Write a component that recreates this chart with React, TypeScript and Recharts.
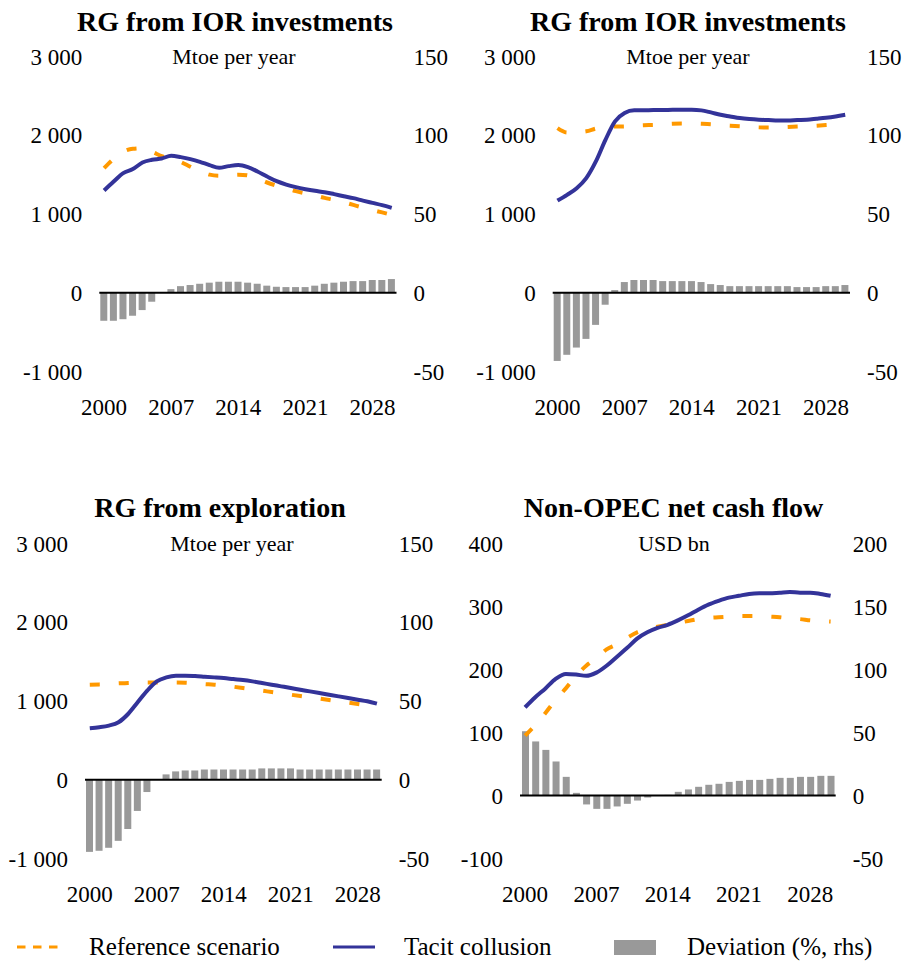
import React from 'react';
import { ComposedChart, Bar, Line, XAxis, YAxis, ReferenceLine } from 'recharts';

const FONT = '"Liberation Serif", "Times New Roman", serif';

const years = ['2000','2001','2002','2003','2004','2005','2006','2007','2008','2009','2010','2011','2012','2013','2014','2015','2016','2017','2018','2019','2020','2021','2022','2023','2024','2025','2026','2027','2028','2029','2030'];

// Panel 1: RG from IOR investments (Mtoe per year)
const ior1Reference = [1583,1700,1790,1828,1835,1790,1735,1700,1660,1600,1545,1500,1485,1490,1500,1490,1450,1400,1360,1325,1290,1262,1235,1205,1180,1150,1115,1080,1050,1020,989];
const ior1Tacit = [1298,1412,1519,1570,1654,1688,1705,1739,1722,1697,1663,1621,1587,1608,1621,1595,1540,1476,1417,1374,1341,1315,1294,1277,1252,1226,1201,1170,1141,1112,1078];
const ior1Deviation = [-17.8,-17.8,-16.8,-14.6,-11,-5.7,0,2.3,4.2,4.9,5.7,6.4,7,7,7,6.4,5.7,4.5,3.8,3.6,3.6,3.6,4.5,5.7,6.4,7,7.4,7.4,8.1,8.1,8.7];

// Panel 2: RG from IOR investments (Mtoe per year)
const ior2Reference = [2091,2036,2040,2050,2085,2105,2110,2112,2120,2128,2130,2138,2145,2148,2148,2145,2140,2130,2122,2115,2108,2100,2098,2100,2105,2110,2115,2122,2130,2138,2145];
const ior2Tacit = [1170,1243,1327,1455,1667,1942,2176,2282,2316,2316,2320,2320,2324,2324,2324,2316,2290,2260,2239,2218,2205,2197,2193,2188,2188,2193,2197,2209,2222,2239,2260];
const ior2Deviation = [-43.3,-39.4,-34.8,-29.3,-20.4,-7.6,1.7,6.8,8.1,8.1,8.1,7.4,7.4,7.4,7.4,6.8,5.5,4.9,4.2,4.2,4.2,4.2,4.2,4.2,4.2,3.6,3.6,3.6,4.2,4.2,4.9];

// Panel 3: RG from exploration (Mtoe per year)
const explReference = [1207,1211,1215,1224,1228,1232,1236,1236,1236,1236,1232,1224,1215,1207,1194,1181,1165,1148,1131,1114,1097,1080,1063,1046,1030,1013,996,979,962,945,928];
const explTacit = [654,667,688,730,835,983,1131,1249,1300,1321,1321,1316,1308,1300,1291,1278,1266,1249,1228,1207,1186,1165,1143,1122,1101,1080,1059,1038,1017,996,966];
const explDeviation = [-45.8,-45.1,-43.2,-38.8,-31.2,-19.8,-7.8,0,3.4,5.3,5.9,5.9,6.5,6.5,6.5,6.5,6.5,6.5,7.2,7.2,7.2,7.2,6.5,6.5,6.5,6.5,6.5,6.5,6.5,6.5,6.5];

// Panel 4: Non-OPEC net cash flow (USD bn)
const cashReference = [95,112,131,152,170,190,206,218,232,240,250,259,264,268,271,274,277,280,282,283,284,285,285,285,284,283,281,280,278,277,276];
const cashTacit = [140,156,170,185,193,192,190,195,206,220,234,249,259,266,271,278,286,295,303,309,314,317,320,321,321,322,323,322,322,320,317];
const cashDeviation = [51,42.9,36.2,27,14.8,2.1,-7.1,-10.6,-10.6,-8.7,-6.6,-4,-1.6,-0.3,0.5,2.9,4.8,6.9,8.5,9.3,10.8,11.6,12.4,12.4,13.2,14,14,14.8,14.8,15.6,15.6];

const mtoeTicks = [-1000, 0, 1000, 2000, 3000];
const devTicks = [-50, 0, 50, 100, 150];
const usdTicks = [-100, 0, 100, 200, 300, 400];
const cashDevTicks = [-50, 0, 50, 100, 150, 200];

const ORANGE = '#FF9900';
const BLUE = '#333399';
const GREY = '#999999';

const build = (refs: number[], tacit: number[], dev: number[]) =>
  years.map((y, i) => ({ year: y, reference: refs[i], tacit: tacit[i], deviation: dev[i] }));

const fmtThousands = (v: number) => {
  const s = Math.abs(v).toString();
  const withSpace = s.length > 3 ? s.slice(0, s.length - 3) + ' ' + s.slice(s.length - 3) : s;
  return (v < 0 ? '-' : '') + withSpace;
};

const tickStyle = { fill: '#000', fontSize: 23, fontFamily: FONT };

type PanelProps = {
  left: number; top: number; width: number; height: number;
  wl: number; wr: number;
  data: any[];
  leftTicks: number[]; rightTicks: number[];
  leftFmt?: (v: number) => string;
};

const PLOT_TOP = 56.5;
const PLOT_H = 315;

function Panel(p: PanelProps) {
  return (
    <div style={{ position: 'absolute', left: p.left, top: p.top, width: p.width, height: p.height }}>
      <ComposedChart width={p.width} height={p.height} data={p.data}
        margin={{ top: PLOT_TOP, right: 0, bottom: 0, left: 0 }}>
        <XAxis dataKey="year" interval={6} axisLine={false} tickLine={false} tickSize={0} tickMargin={27}
          height={p.height - PLOT_TOP - PLOT_H} tick={tickStyle} />
        <YAxis yAxisId="left" width={p.wl} domain={[p.leftTicks[0], p.leftTicks[p.leftTicks.length - 1]]}
          ticks={p.leftTicks} tickFormatter={p.leftFmt} axisLine={false} tickLine={false} tickSize={0}
          tickMargin={17} tick={tickStyle} interval={0} />
        <YAxis yAxisId="right" orientation="right" width={p.wr}
          domain={[p.rightTicks[0], p.rightTicks[p.rightTicks.length - 1]]} ticks={p.rightTicks}
          axisLine={false} tickLine={false} tickSize={0} tickMargin={17} tick={tickStyle} interval={0} />
        <Bar yAxisId="right" dataKey="deviation" fill={GREY} barSize={7} isAnimationActive={false} />
        <ReferenceLine yAxisId="left" y={0} stroke="#000" strokeWidth={2} />
        <Line yAxisId="left" dataKey="reference" type="monotone" stroke={ORANGE} strokeWidth={4}
          strokeDasharray="10 19" dot={false} activeDot={false} isAnimationActive={false} />
        <Line yAxisId="left" dataKey="tacit" type="monotone" stroke={BLUE} strokeWidth={4}
          dot={false} activeDot={false} isAnimationActive={false} />
      </ComposedChart>
    </div>
  );
}

export default function App() {
  const titleStyle = { fontFamily: FONT, fontSize: 28, fontWeight: 700, fill: '#000' } as const;
  const subStyle = { fontFamily: FONT, fontSize: 22, fill: '#000' } as const;
  const legStyle = { fontFamily: FONT, fontSize: 25, fill: '#000' } as const;
  return (
    <div style={{ position: 'absolute', left: 0, top: 0, width: 905, height: 964, background: '#fff' }}>
      <Panel left={0} top={0} width={460} height={421.5} wl={99.3} wr={63.5}
        data={build(ior1Reference, ior1Tacit, ior1Deviation)} leftTicks={mtoeTicks} rightTicks={devTicks}
        leftFmt={fmtThousands} />
      <Panel left={452} top={0} width={453} height={421.5} wl={100.7} wr={55}
        data={build(ior2Reference, ior2Tacit, ior2Deviation)} leftTicks={mtoeTicks} rightTicks={devTicks}
        leftFmt={fmtThousands} />
      <Panel left={0} top={487} width={450} height={421.5} wl={85} wr={68.3}
        data={build(explReference, explTacit, explDeviation)} leftTicks={mtoeTicks} rightTicks={devTicks}
        leftFmt={fmtThousands} />
      <Panel left={452} top={487} width={453} height={421.5} wl={68} wr={69.3}
        data={build(cashReference, cashTacit, cashDeviation)} leftTicks={usdTicks} rightTicks={cashDevTicks} />
      <svg width={905} height={964} style={{ position: 'absolute', left: 0, top: 0, pointerEvents: 'none' }}>
        <text x={235} y={31} textAnchor="middle" style={titleStyle}>RG from IOR investments</text>
        <text x={234} y={64} textAnchor="middle" style={subStyle}>Mtoe per year</text>
        <text x={688} y={31} textAnchor="middle" style={titleStyle}>RG from IOR investments</text>
        <text x={688} y={64} textAnchor="middle" style={subStyle}>Mtoe per year</text>
        <text x={220} y={517} textAnchor="middle" style={titleStyle}>RG from exploration</text>
        <text x={232} y={551} textAnchor="middle" style={subStyle}>Mtoe per year</text>
        <text x={673.5} y={517} textAnchor="middle" style={titleStyle}>Non-OPEC net cash flow</text>
        <text x={674} y={551} textAnchor="middle" style={subStyle}>USD bn</text>

        <line x1={17} y1={947} x2={58} y2={947} stroke={ORANGE} strokeWidth={3} strokeDasharray="8.5 7.5" />
        <text x={89} y={955} style={legStyle}>Reference scenario</text>
        <line x1={333} y1={947} x2={375} y2={947} stroke={BLUE} strokeWidth={3} />
        <text x={404} y={955} style={legStyle}>Tacit collusion</text>
        <rect x={614} y={940} width={42} height={15} fill={GREY} />
        <text x={687} y={955} style={legStyle}>Deviation (%, rhs)</text>
      </svg>
    </div>
  );
}
